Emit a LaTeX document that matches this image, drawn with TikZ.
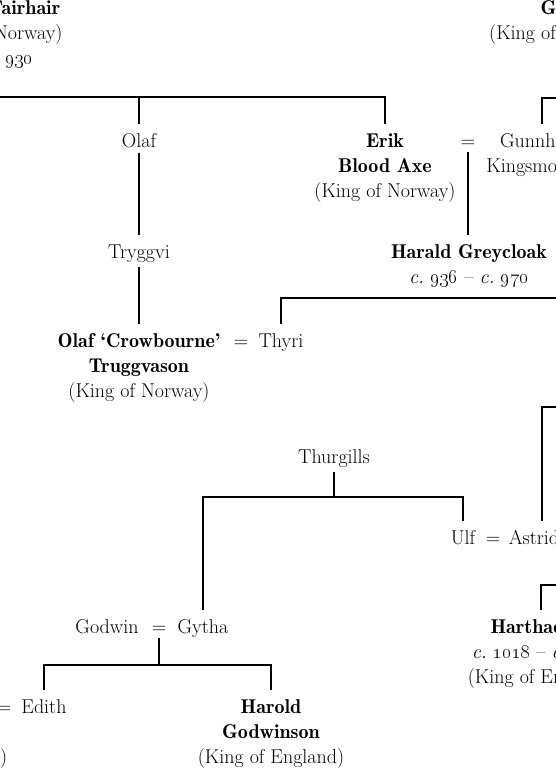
\documentclass[tikz,border=0pt]{standalone}
\usepackage{fix-cm}
\newcommand{\onum}[1]{\oldstylenums{#1}}
\newcommand{\kname}[1]{{\fontseries{b}\selectfont #1}}
\newcommand{\hstrut}{\rule{0pt}{18pt}}

\begin{document}
\begin{tikzpicture}[x=1pt, y=-1pt,
  font=\fontsize{20}{25}\selectfont,
  person/.style={anchor=north, align=center, inner xsep=2pt, inner ysep=5pt,
    execute at begin node={\hstrut}},
  link/.style={line width=1.8pt}]

\useasboundingbox (0, 0) rectangle (555, 768);

\node[person] (fairhair) at (-8, -9) {\hstrut\kname{Harald Fairhair}\\(King of Norway)\\\textit{c.}~\onum{850} -- \onum{930}\hspace*{16pt}};
\node[person] (gorm) at (566, -9) {\hstrut\kname{Gorm}\\(King of Denmark)};

\node[person] (olaf) at (139, 124) {Olaf};
\node[person] (erik) at (385, 124) {\hstrut\kname{Erik}\\\kname{Blood Axe}\\(King of Norway)};
\node[person] (wed1) at (468, 124) {=};
\node[person] (gunnhild) at (538, 124) {\hstrut Gunnhild\\Kingsmother};

\node[person] (tryggvi) at (139, 235) {Tryggvi};
\node[person] (greycloak) at (469, 235) {\hstrut\kname{Harald Greycloak}\\\textit{c.}~\onum{936} -- \textit{c.}~\onum{970}};

\node[person] (olaft) at (139, 324) {\hstrut\kname{Olaf `Crowbourne'}\\\kname{Truggvason}\\(King of Norway)};
\node[person] (wed2) at (241, 324) {=};
\node[person] (thyri) at (281, 324) {Thyri};

\node[person] (thurgills) at (334, 440) {Thurgills};
\node[person] (ulf) at (463, 521) {Ulf};
\node[person] (wed3) at (493, 521) {=};
\node[person] (astrid) at (534, 521) {Astrid};

\node[person] (godwin) at (107, 610) {Godwin};
\node[person] (wed4) at (159, 610) {=};
\node[person] (gytha) at (203, 610) {Gytha};
\node[person] (harthacnut) at (541, 610) {\hstrut\kname{Harthacnut}\\\textit{c.}~\onum{1018} -- \textit{c.}~\onum{1042}\\(King of England)};

\node[person] (edward) at (-66, 690) {\hstrut\kname{Edward}\\\kname{the Confessor}\\(King of England)};
\node[person] (wed5) at (4, 690) {=};
\node[person] (edith) at (44, 690) {Edith};
\node[person] (harold) at (271, 690) {\hstrut\kname{Harold}\\\kname{Godwinson}\\(King of England)};

\coordinate (fairbus) at (-20, 97);
\coordinate (gormend) at (570, 98);
\coordinate (gormdrop) at (542, 98);
\coordinate (thyribus) at (570, 298);
\coordinate (astridend) at (570, 407);
\coordinate (astriddrop) at (542, 407);
\coordinate (thurbus) at (334, 497);
\coordinate (godbus) at (159, 665);
\coordinate (harthbus) at (570, 585);

\draw[link] (fairbus) -| (erik.north);
\draw[link] (olaf.north |- fairbus) -- (olaf.north);
\draw[link] (gormend) -- (gormdrop) -- (gormdrop |- gunnhild.north);

\draw[link] (olaf.south) -- (tryggvi.north);
\draw[link] (tryggvi.south) -- (olaft.north);
\draw[link] (wed1.south) -- (wed1.south |- greycloak.north);
\draw[link] (thyribus) -| (thyri.north);

\draw[link] (astridend) -- (astriddrop) -- (astriddrop |- astrid.north);
\draw[link] (thurgills.south) -- (thurbus);
\draw[link] (gytha.north) |- (thurbus) -| (ulf.north);

\draw[link] (wed4.south) -- (wed4.south |- godbus);
\draw[link] (edith.north) |- (godbus) -| (harold.north);
\draw[link] (harthbus) -| (harthacnut.north);

\end{tikzpicture}
\end{document}
